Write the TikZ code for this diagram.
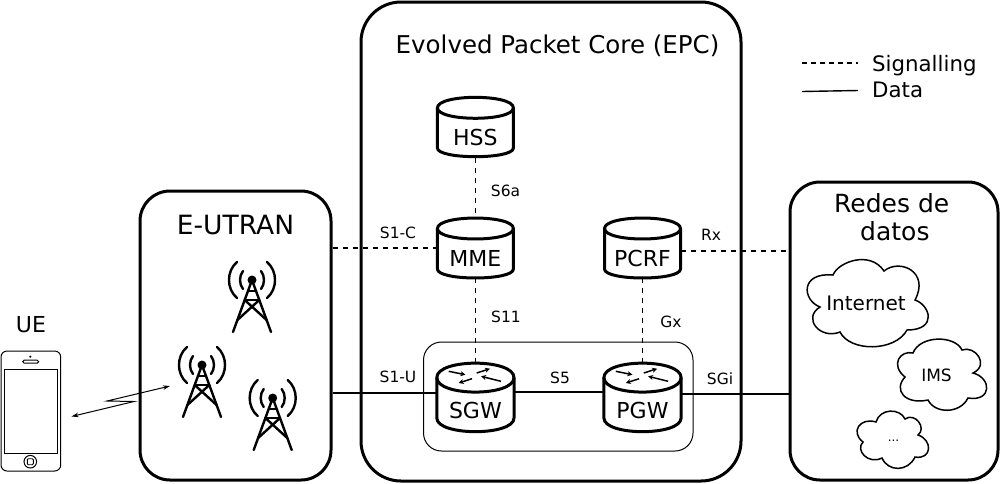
\documentclass[tikz,border=0pt]{standalone}
\usepackage{fontspec}
\setmainfont{DejaVu Sans}
\usetikzlibrary{arrows.meta}
\newcommand{\fsz}[1]{\fontsize{#1}{#1}\selectfont}
\tikzset{
  region/.style={draw,line width=3pt,fill=white,inner sep=0pt},
  group/.style={draw,line width=1pt,rounded corners=18pt,inner sep=0pt},
  signal/.style={line width=1.6pt,dash pattern=on 5pt off 5pt},
  datal/.style={line width=1.6pt},
  cylline/.style={line width=3pt,fill=white,line join=round},
  cyltext/.style={inner sep=0pt,font=\fsz{22}},
  iflabel/.style={inner sep=0pt,font=\fsz{15.5}},
  towerline/.style={line width=2.4pt,line cap=round},
  cloudline/.style={line width=1.5pt,fill=white},
  routerarrow/.style={line width=1.5pt,-{Stealth[length=5pt,width=5pt]}},
}
% name, centre x, half width, top-ellipse centre y, top ry, side end y, lower ry, label, label y
\newcommand{\cylnode}[9]{%
  \draw[cylline] (#2-#3,#4) -- (#2-#3,#6) .. controls (#2-#3,#6+1.33*#7) and (#2+#3,#6+1.33*#7) .. (#2+#3,#6) -- (#2+#3,#4)
     .. controls (#2+#3,#4-1.33*#5) and (#2-#3,#4-1.33*#5) .. cycle;
  \draw[line width=3pt] (#2-#3,#4) .. controls (#2-#3,#4+1.33*#5) and (#2+#3,#4+1.33*#5) .. (#2+#3,#4);
  \node[cyltext] (#1) at (#2,#9) {#8};
}
\newcommand{\towerat}[2]{%
  \begin{scope}[shift={(#1,#2)}]
    \fill (0,0) circle[radius=4.5pt];
    \draw[towerline] (-19,52) -- (0,0) -- (19,52);
    \draw[towerline] (-4,11) -- (4,11) (-7.3,20) -- (7.3,20);
    \draw[towerline] (-7.3,20) -- (14.6,40) (7.3,20) -- (-14.6,40);
    \draw[towerline] (-15,-18) .. controls (-25.7,-9) and (-25.7,9) .. (-15,18);
    \draw[towerline] (15,-18) .. controls (25.7,-9) and (25.7,9) .. (15,18);
    \draw[towerline] (-9,-9) .. controls (-13,-4) and (-13,4) .. (-9,9);
    \draw[towerline] (9,-9) .. controls (13,-4) and (13,4) .. (9,9);
  \end{scope}
}
\newcommand{\routerat}[2]{%
  \begin{scope}[shift={(#1,#2)}]
    \draw[routerarrow] (-26.7,-6.3) -- (-10,-2.9);
    \draw[routerarrow] (-3.4,1.1) -- (-16.7,5.4);
    \draw[routerarrow] (1.3,-4.6) -- (14.6,-8.9);
    \draw[routerarrow] (25.6,3.7) -- (5.6,-1.3);
  \end{scope}
}
\begin{document}
\begin{tikzpicture}[x=1pt,y=-1pt]
\useasboundingbox[fill=white] (0,0) rectangle (1000,483);

% regions
\node[region,rounded corners=40pt,minimum width=380pt,minimum height=479pt] (epc) at (551,241.5) {};
\node[region,rounded corners=30pt,minimum width=191pt,minimum height=289pt] (eutran) at (235.5,335.5) {};
\node[region,rounded corners=30pt,minimum width=208pt,minimum height=298pt] (redes) at (894,331) {};
\node[group,minimum width=269.5pt,minimum height=109pt] (gwgroup) at (558.25,396.5) {};

\node[inner sep=0pt,font=\fsz{24.5}] (epctitle) at (557.5,46) {Evolved Packet Core (EPC)};
\node[inner sep=0pt,font=\fsz{26.5}] (eutrantitle) at (235.5,225) {E-UTRAN};
\node[inner sep=0pt,font=\fsz{25},align=left,anchor=north west] (redestitle) at (834,193) {Redes de\\[3pt]\hspace*{26pt}datos};
\node[inner sep=0pt,font=\fsz{22}] (uetitle) at (31,325) {UE};

% connectors
\draw[signal] (475.4,158) -- (475.4,218);
\draw[signal] (475.4,278) -- (475.4,363);
\draw[signal] (642.5,278) -- (642.5,363);
\draw[signal] (eutran.east |- 0,248) -- (437,248);
\draw[signal] (681,251) -- (redes.west |- 0,251);
\draw[datal] (eutran.east |- 0,393) -- (436.7,393);
\draw[datal] (514,392) -- (603,392);
\draw[datal] (681,394) -- (redes.west |- 0,394);

% cylinders
\cylnode{hss}{475.4}{38}{107.8}{10.5}{148}{8.7}{HSS}{137.5}
\cylnode{mme}{475.4}{38}{228.5}{10.5}{269}{9}{MME}{258}
\cylnode{pcrf}{642.5}{38}{228.5}{10.5}{269}{9}{PCRF}{258}
\cylnode{sgw}{475.4}{38.6}{377.6}{14.5}{418}{13.7}{SGW}{410}
\cylnode{pgw}{642.5}{38.6}{377.6}{14.5}{418}{13.7}{PGW}{410}
\routerat{475.4}{377.6}
\routerat{642.5}{377.6}

% interface labels
\node[iflabel] (ls6a) at (505.5,190.5) {S6a};
\node[iflabel] (ls1c) at (398,232.5) {S1-C};
\node[iflabel] (lrx) at (711,234.5) {Rx};
\node[iflabel] (ls11) at (506,317) {S11};
\node[iflabel] (lgx) at (671,322) {Gx};
\node[iflabel] (ls1u) at (398,376.5) {S1-U};
\node[iflabel] (ls5) at (560,377.5) {S5};
\node[iflabel] (lsgi) at (720,378.5) {SGi};

% legend
\coordinate (lega) at (802,63);
\coordinate (legb) at (858,63);
\coordinate (legc) at (802,91.5);
\coordinate (legd) at (858,90.5);
\draw[line width=1.4pt,dash pattern=on 5pt off 4pt] (lega) -- (legb);
\draw[line width=1.4pt] (legc) -- (legd);
\node[inner sep=0pt,font=\fsz{21.3},anchor=base west] (legs) at (872,71) {Signalling};
\node[inner sep=0pt,font=\fsz{21.3},anchor=base west] (legt) at (872,97) {Data};

% towers
\towerat{252}{280}
\towerat{202}{365}
\towerat{272.7}{398}

% phone
\node[draw,line width=1pt,rounded corners=6pt,minimum width=59.7pt,minimum height=120pt,inner sep=0pt] (phone) at (30.85,411) {};
\draw[line width=1pt] (4,369) rectangle (57.3,453);
\draw[line width=1pt,rounded corners=1.5pt] (22.7,360.2) rectangle (38.7,363.2);
\fill (30.3,356.7) circle[radius=1.2pt];
\draw[line width=1pt] (30.3,461.7) circle[radius=6.3pt];
\draw[line width=.9pt,rounded corners=1pt] (27.3,458.7) rectangle (33.3,464.7);

% radio link
\coordinate (linka) at (71.5,416.5);
\coordinate (linkb) at (134,401.5);
\coordinate (linkc) at (107,401);
\coordinate (linkd) at (170,386);
\draw[line width=1pt,{Stealth[length=7pt,width=4.5pt]}-{Stealth[length=7pt,width=4.5pt]}] (linka) -- (linkb) -- (linkc) -- (linkd);

% clouds
\draw[cloudline] (833,275) .. controls (838,262) and (870,250) .. (884,271)
  .. controls (900,258) and (930,272) .. (915,300)
  .. controls (930,305) and (938,330) .. (907,330)
  .. controls (895,352) and (850,352) .. (840,332)
  .. controls (820,340) and (802,318) .. (820,307)
  .. controls (802,300) and (800,272) .. (833,275) -- cycle;
\node[inner sep=0pt,font=\fsz{20}] (inet) at (866,303) {Internet};
\draw[cloudline] (913,353) .. controls (920,335) and (955,335) .. (962,350)
  .. controls (975,345) and (990,365) .. (973,373)
  .. controls (992,378) and (992,402) .. (968,398)
  .. controls (960,414) and (935,414) .. (928,400)
  .. controls (905,405) and (893,390) .. (905,377)
  .. controls (890,365) and (900,350) .. (913,353) -- cycle;
\node[inner sep=0pt,font=\fsz{17}] (ims) at (936.5,375) {IMS};
\draw[cloudline] (876,422) .. controls (880,408) and (900,408) .. (905,419)
  .. controls (915,412) and (927,428) .. (918,435)
  .. controls (933,440) and (932,460) .. (915,457)
  .. controls (908,472) and (888,472) .. (882,458)
  .. controls (868,465) and (855,450) .. (863,442)
  .. controls (850,432) and (860,417) .. (876,422) -- cycle;
\node[inner sep=0pt,font=\fsz{12}] (dots) at (893.5,441) {...};
\end{tikzpicture}
\end{document}
